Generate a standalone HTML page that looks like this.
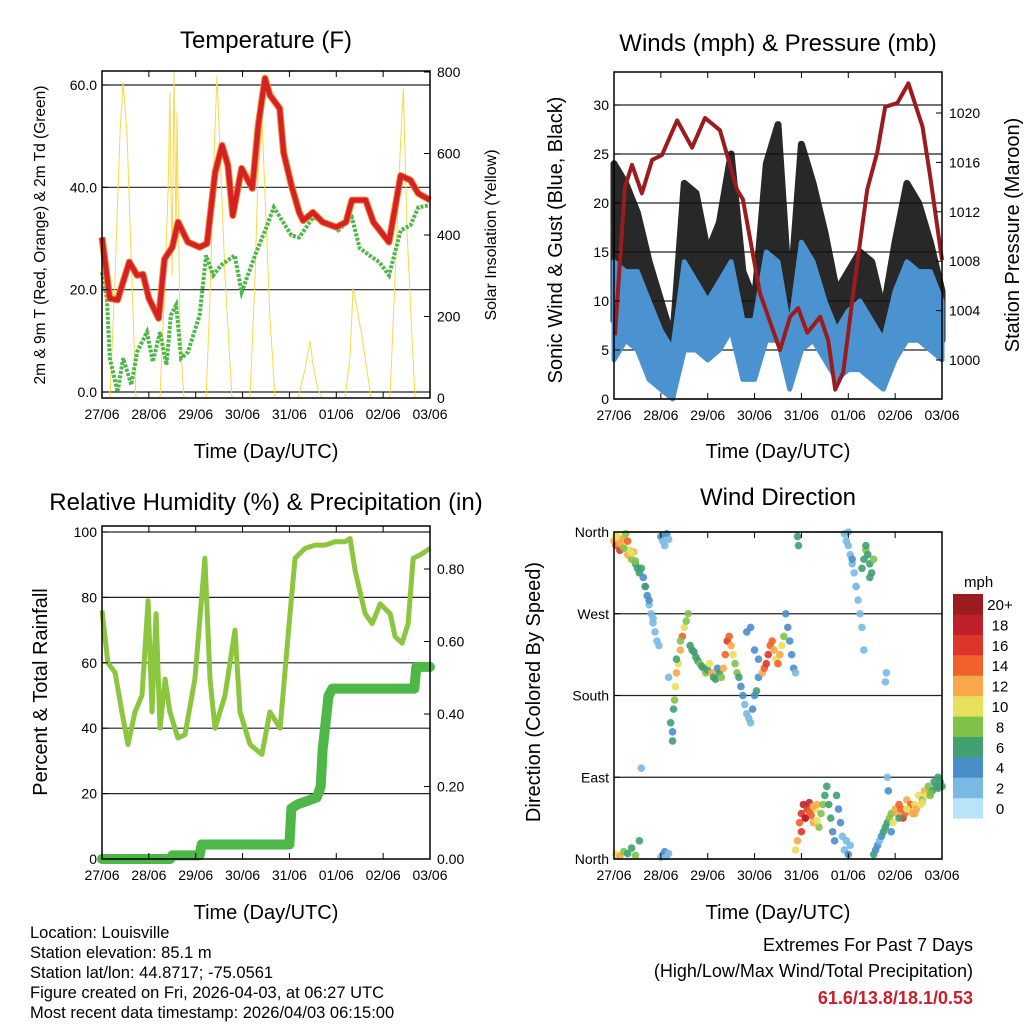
<!DOCTYPE html>
<html><head><meta charset="utf-8"><style>
html,body{margin:0;padding:0;background:#fff;}
svg{display:block;font-family:"Liberation Sans",Arial,sans-serif;}
</style></head><body>
<svg id="root" width="1024" height="1024" viewBox="0 0 1024 1024">
<rect width="1024" height="1024" fill="#fff"/>
<g id="layer"></g>
<text x="266" y="48" font-size="24" text-anchor="middle">Temperature (F)</text>
<text x="778" y="51" font-size="24" text-anchor="middle">Winds (mph) &amp; Pressure (mb)</text>
<text x="266" y="510" font-size="24" text-anchor="middle">Relative Humidity (%) &amp; Precipitation (in)</text>
<text x="778" y="505" font-size="24" text-anchor="middle">Wind Direction</text>
<text x="266" y="458" font-size="20" text-anchor="middle">Time (Day/UTC)</text>
<text x="778" y="458" font-size="20" text-anchor="middle">Time (Day/UTC)</text>
<text x="266" y="919" font-size="20" text-anchor="middle">Time (Day/UTC)</text>
<text x="778" y="919" font-size="20" text-anchor="middle">Time (Day/UTC)</text>
<text transform="translate(45,235) rotate(-90)" font-size="15.5" text-anchor="middle">2m &amp; 9m T (Red, Orange) &amp; 2m Td (Green)</text>
<text transform="translate(496,235) rotate(-90)" font-size="16" text-anchor="middle">Solar Insolation (Yellow)</text>
<text transform="translate(562,240) rotate(-90)" font-size="20" text-anchor="middle">Sonic Wind &amp; Gust (Blue, Black)</text>
<text transform="translate(1019,235) rotate(-90)" font-size="20" text-anchor="middle">Station Pressure (Maroon)</text>
<text transform="translate(47,692) rotate(-90)" font-size="20" text-anchor="middle">Percent &amp; Total Rainfall</text>
<text transform="translate(540,692) rotate(-90)" font-size="20" text-anchor="middle">Direction (Colored By Speed)</text>
<text x="964" y="587" font-size="15" text-anchor="start">mph</text>
<g font-size="16.5">
<text x="30" y="938">Location: Louisville</text>
<text x="30" y="958">Station elevation: 85.1 m</text>
<text x="30" y="978">Station lat/lon: 44.8717; -75.0561</text>
<text x="30" y="998">Figure created on Fri, 2026-04-03, at 06:27 UTC</text>
<text x="30" y="1018">Most recent data timestamp: 2026/04/03 06:15:00</text>
</g>
<text x="973" y="951" font-size="18" text-anchor="end">Extremes For Past 7 Days</text>
<text x="973" y="977" font-size="18" text-anchor="end">(High/Low/Max Wind/Total Precipitation)</text>
<text x="973" y="1004" font-size="18" font-weight="bold" fill="#c8202a" text-anchor="end">61.6/13.8/18.1/0.53</text>
</svg>
<script>
// ---------- data ----------
const dayLabels = ["27/06","28/06","29/06","30/06","31/06","01/06","02/06","03/06"];
const tempHours = [0,4,8,14,18,21,24,29,32,36,39,44,50,53.8,58,61.5,64.5,67,71.5,77,80,83.5,86,91,93,97,101,103,108,113,120,125,128,135,139,147,153,158,162,168];
const tempValues = [30.2,18.3,18,25.4,22.8,23,18.3,14.4,26,28.3,33.2,29.3,28.3,29,43,48.2,44.3,34.5,43.7,39.8,52,61.3,58,55.4,46.8,40.4,35.1,33.5,35.1,33.2,32.2,33.2,37.5,37.5,33.2,29.3,42.3,41.4,38.8,37.5];
const dewHours = [0,2.5,4,8,10.8,15,18,23,26,29.7,33,35.3,38,40.5,44,50,53.3,57,61,68,71.5,79,84,88,97,101,108,115,121,128,132,137,142,147,153,158,162,168];
const dewValues = [23.4,18.3,6.6,0,6.6,1.4,7.8,11.7,5.9,11.7,5.3,15,17,6.6,7.8,15,26.7,22.8,24.8,26.7,19.5,27.3,32,36.1,30.6,30.2,34.1,33.2,31.6,34.1,28.1,26.7,25.4,22.8,31.6,32.6,36.1,36.5];
const solarHours = [0,4.1,6.7,9.2,10.8,12.8,14.9,17.4,29.7,32.3,33.8,34.8,35.9,36.9,37.9,38.4,40,42,53.3,55.3,57.4,58.9,60.5,63,66.6,75.8,78.4,79.9,82,83.5,86,88.6,100.4,104,106.6,108.1,110.7,112.7,124.5,127,128.6,130.6,133.2,136.3,137.8,147.5,150.1,152.7,154.3,156.3,158.8,160.3,168];
const solarValues = [0,0,300,650,775,650,350,0,0,300,500,750,300,800,400,700,150,0,0,250,600,790,600,300,0,0,300,550,680,500,200,0,0,70,140,80,20,0,0,100,270,220,150,50,0,0,300,600,760,400,150,0,0];
const windHours = [0,6,12,18,24,30,36,42,48,54,60,66,72,78,84,90,96,102,108,114,120,126,132,138,144,150,156,162,168];
const sonicLow  = [4,6,5,2,1,0,5,5,4,5,7,2,2,6,6,1,5,6,4,2,3,3,2,1,4,6,6,5,4];
const sonicHigh = [14,13,13,10,7,5,14,12,10,12,14,8,8,15,14,7,16,14,10,7,9,10,8,6,11,14,13,13,10];
const gustLow   = [8,10,9,4,3,2,8,9,7,8,12,3,3,10,10,3,10,10,8,4,5,6,4,3,7,10,10,8,6];
const gustHigh  = [24,22,19,14,10,6,22,21,15,18,25,13,10,24,28,10,26,22,17,11,13,15,14,9,16,22,20,16,11];
const presHours = [0.5,5.6,9.2,14.3,19.5,24.6,32.3,40,46.6,54.3,63,66,74.8,85,90.2,94.3,99,105.6,109.7,113.3,117.4,122.5,129.7,134.8,138.9,145.1,150.8,158,162,168];
const presValues = [1002,1014,1015.8,1013.5,1016.2,1016.6,1019.4,1017.2,1019.6,1018.6,1013.8,1013,1005.4,1000.8,1003.5,1004.2,1002.2,1003.5,1001.6,997.6,999,1005.4,1013.8,1016.8,1020.5,1020.8,1022.4,1018.9,1014.8,1008.1];
const rhHours = [0,3,6.7,10.2,13.3,16.9,20.5,23.6,25.6,27.7,29.7,32.3,34.8,38.9,42.5,47.6,52.7,55.3,57.9,63,68.1,70.7,75.8,81.9,86,91.2,96.3,98.9,104,109.2,114.3,119.4,124.5,127.1,129.7,134.8,138.4,142.5,147.6,150.1,153.7,156.8,159.4,163,168];
const rhValues = [76,60,57,45,35,45,50,79,45,75,40,55,45,37,38,55,92,55,40,50,70,45,35,32,45,40,75,92,95,96,96,97,97,98,88,75,72,78,75,68,66,72,92,93,95];
const rainHours = [0,35,36,50,51,96,97,100,110,112,113,114,116,118,120,125,160,161,168];
const rainValues = [0,0,0.01,0.01,0.04,0.04,0.14,0.15,0.17,0.2,0.3,0.35,0.45,0.47,0.47,0.47,0.47,0.53,0.53];
const dirHours  = [
 0,1,2,3,4,5,6,7,8,9,10,11,12,13, 1,3,5,7,9,11,
 14,15,16,17,18,19,20,21,22,23,16,18,20, 24,25,26,27,28, 14,
 1,3,5,7,9,11,13, 24,25,26,27,28,
 28,29,30,30.5,31,31.5,32,33,34,35,36,37,38, 30,32,34,
 39,40,41,42,43,44,45,46,47,48,49,50,51,52,53,54,55,
 56,57,58,59,60,61,62,63,64,
 65,66,67,68,69,70,71,72,73,74,68,70,72,74,
 76,77,78,79,80,81,82,83,84,85,86,87,
 88,89,90,91,92,93, 94,94.5,
 93,94,95,96,97,98,99,100,101,102,103,104,105,96,98,100,102,104,
 106,107,108,109,110,111,112,113,114,115,116,117,118,119,120,121,
 118,119,120,121,122,123,124,125,126,127,128, 120,122,124,
 127,128,129,130,131,132,133,129,131,
 139,139.5,140,140.5,
 133,134,135,136,137,138,139,140,141,142,143,144,145,146,147,148,149,150,151,152,153,154,155,156,157,158,159,160,161,162,163,164,165,166,167,168,
 142,146,150,154,158,162,166];
const dirValues = [
 350,345,355,340,352,345,358,335,340,330,338,325,320,315, 355,347,342,350,337,328,
 320,310,300,290,280,270,260,250,240,235,300,285,265, 355,350,345,358,352, 100,
 5,3,8,6,12,4,20, 2,5,8,3,6,
 200,150,140,165,175,190,205,215,230,245,255,262,270, 130,220,240,
 235,230,228,222,218,215,212,210,205,208,215,205,200,198,210,205,200,
 210,225,240,245,235,225,215,205,200,
 190,180,170,160,155,150,165,180,185,200,250,255,230,220,
 205,210,215,225,235,240,230,220,215,225,235,245,
 270,255,240,225,210,205, 355,345,
 10,20,40,50,60,45,55,62,48,40,55,60,35,30,45,52,58,42,
 50,60,70,80,60,45,30,20,70,55,40,25,10,20,5,15,
 358,350,345,335,325,315,300,285,270,255,230, 360,330,300,
 320,330,340,335,325,315,330,345,310,
 195,205,90,75,
 5,10,15,20,25,30,35,40,45,50,40,55,50,60,55,45,50,65,55,60,50,60,55,70,60,65,75,70,80,70,75,85,80,90,85,80,
 30,45,55,50,62,72,78];
const dirSpeeds = [
 12,14,10,16,12,10,8,12,10,8,12,7,6,6, 11,13,9,14,10,8,
 6,5,4,4,3,3,2,3,2,3,6,4,2, 4,3,2,4,3, 2,
 10,12,8,6,6,9,7, 3,2,4,2,3,
 2,6,4,6,8,10,12,11,12,14,10,8,8, 6,6,8,
 6,7,6,7,6,8,7,6,8,7,10,12,6,7,4,7,8,
 12,14,16,15,12,10,8,9,7,
 4,4,3,3,2,2,4,5,6,4,4,4,5,4,
 12,14,16,17,15,14,12,10,14,13,10,8,
 4,4,5,4,5,3, 6,6,
 10,12,14,16,18,20,16,18,14,12,10,12,8,16,18,14,12,10,
 8,8,6,6,7,6,5,4,6,4,4,3,2,2,4,3,
 3,2,2,2,2,2,2,3,2,2,2, 2,4,2,
 7,7,8,6,7,6,8,7,6,
 2,2,2,4,
 6,4,4,3,4,6,6,6,8,8,10,12,12,14,14,16,14,12,12,14,12,10,12,10,10,8,12,10,8,8,6,6,6,6,6,6,
 4,6,10,12,10,8,6];
const speedBins = ["0","2","4","6","8","10","12","14","16","18","20+"];
const speedColors = ["#b8e3f8","#7ab9e4","#4a8ec9","#40a070","#7fc24a","#e8e05a","#f8a84a","#f0622a","#df3429","#c0202a","#9b1b1e"];
const tempTicks = [0,20,40,60], tempTickLabels = ["0.0","20.0","40.0","60.0"];
const solarTicks = [0,200,400,600,800];
const windTicks = [0,5,10,15,20,25,30];
const presTicks = [1000,1004,1008,1012,1016,1020];
const rhTicks = [0,20,40,60,80,100];
const rainTicks = [0,0.2,0.4,0.6,0.8], rainTickLabels = ["0.00","0.20","0.40","0.60","0.80"];
const dirTicks = [0,90,180,270,360], dirTickLabels = ["North","East","South","West","North"];

// ---------- helpers ----------
const NS = "http://www.w3.org/2000/svg";
const layer = document.getElementById("layer");
function mk(tag, attrs, name, parent) {
  const el = document.createElementNS(NS, tag);
  for (const k in attrs) el.setAttribute(k, attrs[k]);
  
  
  (parent || layer).appendChild(el);
  return el;
}
function lin(d0, d1, r0, r1) { return v => r0 + (v - d0) * (r1 - r0) / (d1 - d0); }
function pathOf(xs, ys, sx, sy) { return xs.map((h, i) => (i ? "L" : "M") + sx(h).toFixed(1) + "," + sy(ys[i]).toFixed(1)).join(""); }

function panel(p) {
  const sx = lin(0, 168, p.x0, p.x1);
  p.grid.forEach(v => mk("line", {x1: p.x0, x2: p.x1, y1: p.sl(v), y2: p.sl(v), stroke: "#222", "stroke-width": 1.2}, "gridline"));
  return sx;
}
function frame(p, sx) {
  mk("rect", {x: p.x0, y: p.y0, width: p.x1 - p.x0, height: p.y1 - p.y0, fill: "none", stroke: "#000", "stroke-width": 1.5}, p.name + "-frame");
  dayLabels.forEach((d, i) => {
    const x = sx(i * 24);
    mk("line", {x1: x, x2: x, y1: p.y1, y2: p.y1 - 6, stroke: "#000"}, "x-tick");
    mk("line", {x1: x, x2: x, y1: p.y0, y2: p.y0 + 6, stroke: "#000"}, "x-tick-top");
    const t = mk("text", {x: x, y: p.y1 + 21, "font-size": 14, "text-anchor": "middle"}, "x-tick-label");
    t.textContent = d;
  });
  p.lt.forEach((v, i) => {
    const y = p.sl(v);
    mk("line", {x1: p.x0, x2: p.x0 + 6, y1: y, y2: y, stroke: "#000"}, "y-tick");
    const t = mk("text", {x: p.x0 - 5, y: y + 5, "font-size": 14, "text-anchor": "end"}, "y-tick-label");
    t.textContent = p.ll[i];
  });
  if (p.rt) p.rt.forEach((v, i) => {
    const y = p.sr(v);
    mk("line", {x1: p.x1, x2: p.x1 - 6, y1: y, y2: y, stroke: "#000"}, "y2-tick");
    const t = mk("text", {x: p.x1 + 7, y: y + 5, "font-size": 14, "text-anchor": "start"}, "y2-tick-label");
    t.textContent = p.rl[i];
  });
}

// ---------- Temperature ----------
const P1 = {name: "temperature", x0: 102, x1: 430, y0: 71, y1: 398, sl: lin(0, 60, 392, 85), sr: lin(0, 800, 398, 72)};
P1.grid = tempTicks; P1.lt = tempTicks; P1.ll = tempTickLabels; P1.rt = solarTicks; P1.rl = solarTicks.map(String);
let sx = panel(P1);
mk("path", {d: pathOf(solarHours, solarValues, sx, P1.sr), fill: "none", stroke: "#f7d84a", "stroke-width": 1}, "solar-line");
mk("path", {d: pathOf(dewHours, dewValues, sx, P1.sl), fill: "none", stroke: "#4db848", "stroke-width": 4, "stroke-dasharray": "3 1.5"}, "dewpoint-line");
mk("path", {d: pathOf(tempHours, tempValues, sx, P1.sl), fill: "none", stroke: "#f08a2a", "stroke-width": 7, "stroke-linejoin": "round"}, "temp-9m-line");
mk("path", {d: pathOf(tempHours, tempValues, sx, P1.sl), fill: "none", stroke: "#d42027", "stroke-width": 5, "stroke-linejoin": "round"}, "temp-2m-line");
frame(P1, sx);

// ---------- Winds ----------
const P2 = {name: "winds", x0: 614, x1: 942, y0: 72, y1: 399, sl: lin(0, 30, 399, 105), sr: lin(1000, 1020, 360, 113)};
P2.grid = windTicks; P2.lt = windTicks; P2.ll = windTicks.map(String); P2.rt = presTicks; P2.rl = presTicks.map(String);
sx = panel(P2);
function band(lo, hi, s, color, name, op) {
  const top = windHours.map((h, i) => (i ? "L" : "M") + sx(h).toFixed(1) + "," + P2.sl(hi[i]).toFixed(1)).join("");
  const bot = windHours.slice().reverse().map((h, j) => "L" + sx(h).toFixed(1) + "," + P2.sl(lo[windHours.length - 1 - j]).toFixed(1)).join("");
  mk("path", {d: top + bot + "Z", fill: color, stroke: color, "stroke-width": s, "stroke-linejoin": "round", opacity: op}, name);
}
band(gustLow, gustHigh, 7, "#111", "gust-band", 0.9);
band(sonicLow, sonicHigh, 5, "#4b93d0", "sonic-wind-band", 1);
mk("path", {d: pathOf(presHours, presValues, sx, P2.sr), fill: "none", stroke: "#9b1b1e", "stroke-width": 4, "stroke-linejoin": "round"}, "pressure-line");
frame(P2, sx);

// ---------- Humidity ----------
const P3 = {name: "humidity", x0: 102, x1: 430, y0: 526, y1: 859, sl: lin(0, 100, 859, 532), sr: lin(0, 0.8, 859, 569)};
P3.grid = [20, 40, 60, 80, 100]; P3.lt = rhTicks; P3.ll = rhTicks.map(String); P3.rt = rainTicks; P3.rl = rainTickLabels;
sx = panel(P3);
mk("path", {d: pathOf(rhHours, rhValues, sx, P3.sl), fill: "none", stroke: "#8cc63f", "stroke-width": 5, "stroke-linejoin": "round"}, "humidity-line");
mk("path", {d: pathOf(rainHours, rainValues, sx, P3.sr), fill: "none", stroke: "#4db848", "stroke-width": 10, "stroke-linejoin": "round", "stroke-linecap": "round"}, "rainfall-line");
frame(P3, sx);

// ---------- Wind direction ----------
const P4 = {name: "direction", x0: 614, x1: 942, y0: 532, y1: 859, sl: lin(0, 360, 859, 532)};
P4.grid = dirTicks; P4.lt = dirTicks; P4.ll = dirTickLabels;
sx = panel(P4);
dirHours.forEach((h, i) => {
  const bin = Math.min(10, Math.floor(dirSpeeds[i] / 2));
  mk("circle", {cx: sx(h), cy: P4.sl(dirValues[i]), r: 3.8, fill: speedColors[bin], opacity: 0.9}, "direction-point");
});
frame(P4, sx);
speedBins.forEach((lab, i) => {
  const y = 594 + (10 - i) * 20.4;
  mk("rect", {x: 953, y: y, width: 30, height: 20.6, fill: speedColors[i]}, "colorbar-swatch");
  const t = mk("text", {x: 1000, y: y + 16, "font-size": 15, "text-anchor": "middle"}, "colorbar-label");
  t.textContent = lab;
});
</script>
</body></html>
